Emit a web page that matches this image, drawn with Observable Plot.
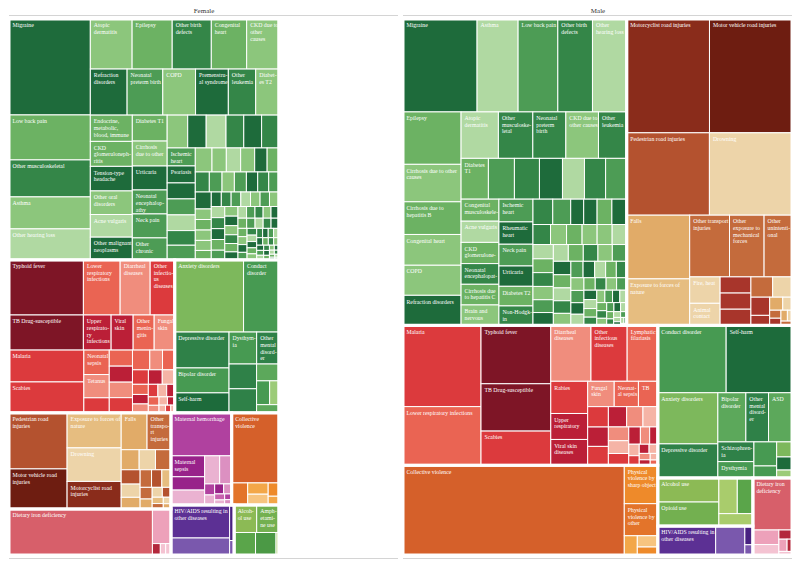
<!DOCTYPE html>
<html><head><meta charset="utf-8">
<script src="https://cdn.jsdelivr.net/npm/d3@7"></script>
<script src="https://cdn.jsdelivr.net/npm/@observablehq/plot@0.6"></script>
<style>body{margin:0;background:#fff}</style>
</head><body><div id="chart"></div>
<script>
const genders = ["Female", "Male"];

// ---- Data: [cause, value (tile area units), shade level] ----
const femaleNCD = [
  ["Migraine", 7776, 5], ["Low back pain", 3645, 2], ["Other musculoskeletal", 2997, 4], ["Asthma", 2592, 1], ["Other hearing loss", 2511, 0],
  ["Atopic dermatitis", 2085, 1], ["Epilepsy", 2000, 2], ["Other birth defects", 1950, 4], ["Congenital heart", 1765, 2], ["CKD due to other causes", 1600, 1],
  ["Refraction disorders", 1688, 5], ["Neonatal preterm birth", 1638, 3], ["COPD", 1504, 1], ["Premenstrual syndrome", 1504, 5], ["Other leukemia", 1256, 4], ["Diabetes T2", 1058, 1],
  ["Endocrine, metabolic, blood, immune", 1100, 2], ["CKD glomerulonephritis", 1045, 2], ["Tension-type headache", 1028, 5], ["Other oral disorders", 986, 1], ["Acne vulgaris", 948, 0], ["Other malignant neoplasms", 950, 5],
  ["Diabetes T1", 902, 2], ["Cirrhosis due to other", 867, 1], ["Urticaria", 833, 5], ["Neonatal encephalopathy", 833, 3], ["Neck pain", 833, 3], ["Other chronic respiratory", 763, 3],
  ["", 673, 1], ["", 604, 5], ["", 650, 0], ["", 581, 4], ["", 584, 5], ["", 561, 4],
  ["Ischemic heart", 504, 3], ["Psoriasis", 476, 5]
];
const femaleNCDSmall = [
  [448,5],[448,3],[440,0],[410,4],[410,3],
  [400,1],[343,1],[343,0],[336,1],[298,5],[278,2],
  [280,4],[254,3],[246,1],[240,3],[226,5],[220,4],[200,3],
  [270,5],[168,1],[168,2],[165,1],[160,1],[150,2],
  [145,5],[142,4],[140,3],[140,0],[138,1],[136,3],[134,1],
  [150,0],[148,4],[146,5],[144,2],[127,1],[130,3],
  [125,5],[120,1],[115,4],[110,2],[105,5],[100,0],[98,3],[95,4],[92,1],[90,5],[88,2],[85,3],[82,0],[80,4],
  [78,5],[75,2],[72,1],[70,5],[68,3],[65,4],[62,0],[60,5],[58,2],[58,1],[55,4],[52,5],[50,3],[48,0],[45,5],
  [42,2],[40,4],[38,1],[36,5],[34,3],[32,0],[30,4],[28,5],[26,2],[24,1],[22,5],[20,0],[18,4],[16,2],[14,5],[12,0],[10,3]
];
const femaleCommunicable = [
  ["Typhoid fever", 4087, 5], ["Lower respiratory infections", 2019, 2], ["Diarrheal diseases", 1650, 1], ["Other infectious diseases", 1348, 3],
  ["TB Drug-susceptible", 2600, 5], ["Upper respiratory infections", 970, 4], ["Viral skin", 770, 4], ["Other meningitis", 735, 2], ["Fungal skin", 718, 1],
  ["Malaria", 2378, 3], ["Scabies", 2303, 3], ["Neonatal sepsis", 620, 2], ["Tetanus", 589, 1]
];
const femaleCommunicableSmall = [[380,3],[372,2],[370,4],[360,1],[350,3],[341,2],[240,2],[250,1],[230,3],[200,4],[180,0],[160,2],[150,4],[140,1],[120,3],[110,0],[100,4],[90,2],[80,1],[70,0],[60,4],[50,0],[40,3],[30,0]];
const femaleMental = [
  ["Anxiety disorders", 4953, 1], ["Conduct disorder", 2531, 3], ["Depressive disorder", 1944, 4], ["Bipolar disorder", 1350, 3], ["Self-harm", 1080, 5],
  ["Dysthymia", 880, 3], ["Other mental disorder", 704, 4]
];
const femaleMentalSmall = [[680,4],[660,4],[372,2],[310,3],[216,0],[180,2]];
const femaleInjuries = [
  ["Pedestrian road injuries", 3248, 4], ["Motor vehicle road injuries", 2320, 6], ["Exposure to forces of nature", 1890, 1], ["Drowning", 1809, 0],
  ["Motorcyclist road injuries", 1485, 5], ["Falls", 951, 2], ["Other transport injuries", 880, 3]
];
const femaleInjuriesSmall = [[330,0],[355,2],[310,3],[270,4],[250,0],[220,2],[200,3],[180,4],[160,1],[140,3],[120,2],[100,0],[85,4],[70,1],[60,3],[50,0],[40,2]];
const femaleNutrition = [["Dietary iron deficiency", 6578, 3]];
const femaleNutritionSmall = [[640,1],[90,4],[61,0],[60,0]];
const femaleMaternal = [["Maternal hemorrhage", 2602, 3], ["Maternal sepsis", 703, 4], ["", 446, 4], ["", 500, 0]];
const femaleMaternalSmall = [[420,0],[336,1],[110,3],[100,0],[90,4],[80,1],[60,2],[50,0],[40,3],[37,1]];
const femaleViolence = [["Collective violence", 3290, 4]];
const femaleViolenceSmall = [[352,3],[230,1],[220,0],[140,2],[92,1]];
const femaleHIV = [["HIV/AIDS resulting in other diseases", 1930, 2], ["", 995, 1]];
const femaleHIVSmall = [[160,3],[65,1]];
const femaleSubstance = [["Alcohol use", 619, 1], ["Amphetamine use", 605, 2]];
const femaleSubstanceSmall = [[480,3],[460,4],[61,0]];

const maleNCD = [
  ["Migraine", 6860, 5], ["Asthma", 3800, 0], ["Low back pain", 3680, 3], ["Other birth defects", 3207, 4], ["Other hearing loss", 3170, 0],
  ["Epilepsy", 3033, 2], ["Cirrhosis due to other causes", 2169, 1], ["Cirrhosis due to hepatitis B", 1891, 2], ["Congenital heart", 1781, 1], ["COPD", 1740, 1], ["Refraction disorders", 1740, 5],
  ["Atopic dermatitis", 1727, 0], ["Other musculoskeletal", 1593, 4], ["Neonatal preterm birth", 1528, 4], ["CKD due to other causes", 1509, 1], ["Other leukemia", 1306, 4],
  ["Diabetes T1", 1111, 2], ["", 1058, 3], ["", 1018, 4], ["", 936, 5], ["", 895, 0], ["", 860, 4], ["", 857, 3],
  ["Congenital musculoskeletal", 831, 2], ["Acne vulgaris", 800, 0], ["CKD glomerulonephritis", 800, 2], ["Neonatal encephalopathy", 780, 4], ["Cirrhosis due to hepatitis C", 780, 2], ["Brain and nervous system cancer", 770, 1],
  ["Ischemic heart", 772, 3], ["Rheumatic heart", 758, 5], ["Neck pain", 738, 3], ["Urticaria", 690, 5], ["Diabetes T2", 666, 2], ["Non-Hodgkin lymphoma", 660, 4]
];
const maleNCDSmall = [
  [500,4],[454,3],[328,5],[339,5],[374,2],[374,5],
  [350,4],[320,1],[310,2],[300,1],[300,1],[290,0],
  [290,0],[280,2],[280,4],[270,1],
  [260,3],[260,5],[250,0],[250,2],[245,4],[240,1],[240,3],[235,5],[230,2],[225,0],[220,4],[210,1],[200,3],[190,5],[180,0],[175,2],
  [170,4],[165,1],[160,3],[150,5],[145,0],[140,2],[135,4],[130,1],[125,3],[120,5],[115,0],[110,2],[105,4],[100,1],[95,3],[90,5],
  [85,0],[80,2],[75,4],[70,1],[65,3],[60,5],[55,0],[50,2],[45,4],[40,0],[35,3],[30,0],[25,5],[20,0],[16,4],[12,0]
];
const maleInjuries = [
  ["Motorcyclist road injuries", 9390, 5], ["Motor vehicle road injuries", 9360, 6], ["Pedestrian road injuries", 6790, 4], ["Drowning", 6780, 0],
  ["Falls", 4000, 2], ["Exposure to forces of nature", 2919, 1], ["Other transport injuries", 2449, 3], ["Other exposure to mechanical forces", 2127, 3], ["Other unintentional", 1717, 3],
  ["Fire, heat", 801, 0], ["Animal contact", 669, 0]
];
const maleInjuriesSmall = [[496,7],[496,7],[496,7],[440,3],[391,0],[340,7],[187,7],[170,2],[120,0],[90,3],[80,7],[70,2],[50,0],[47,3]];
const maleCommunicable = [
  ["Malaria", 6318, 3], ["Lower respiratory infections", 4563, 2], ["Typhoid fever", 4060, 5], ["TB Drug-susceptible", 3290, 5], ["Scabies", 2380, 3],
  ["Diarrheal diseases", 2240, 1], ["Other infectious diseases", 2016, 3], ["Lymphatic filariasis", 1708, 2], ["Rabies", 1184, 3], ["Upper respiratory", 955, 4], ["Viral skin diseases", 950, 4],
  ["Fungal skin", 671, 1], ["Neonatal sepsis", 612, 2], ["TB", 490, 2]
];
const maleCommunicableSmall = [[420,3],[400,4],[390,3],[370,4],[330,1],[300,0],[280,1],[260,0],[240,3],[200,4],[160,1],[140,4],[120,0],[100,3],[90,4],[80,0],[70,1],[60,4],[50,0],[40,2]];
const maleViolence = [["Collective violence", 19780, 4], ["Physical violence by sharp object", 1283, 2], ["Physical violence by other", 1072, 3]];
const maleViolenceSmall = [[250,1],[230,0],[163,2]];
const maleMental = [
  ["Conduct disorder", 4590, 3], ["Self-harm", 4422, 5], ["Anxiety disorders", 3060, 1], ["Depressive disorder", 2040, 4],
  ["Bipolar disorder", 1372, 2], ["Other mental disorder", 1110, 4], ["ASD", 1150, 2], ["Schizophrenia", 709, 4], ["Dysthymia", 587, 3]
];
const maleMentalSmall = [[545,3],[272,3],[230,1],[200,5],[121,0]];
const maleSubstance = [["Alcohol use", 1464, 1], ["Opioid use", 1464, 2]];
const maleSubstanceSmall = [[655,0],[555,3],[422,0]];
const maleHIV = [["HIV/AIDS resulting in other diseases", 1668, 2], ["", 841, 1]];
const maleHIVSmall = [[150,3],[82,1]];
const maleNutrition = [["Dietary iron deficiency", 2028, 3]];
const maleNutritionSmall = [[378,1],[270,0],[120,4],[100,1],[60,4],[47,0]];

// ---- Styles ----
const palettes = {
  green: ["#b0d9a2", "#8cc67c", "#6cb263", "#4d9c55", "#348648", "#1e6b3b"],
  mental: ["#9ccb78", "#7db85c", "#5ca85b", "#479a52", "#2f8148", "#1d6b3b"],
  red: ["#f5b4a6", "#f08d7d", "#ea6453", "#dc3a3d", "#bb1f37", "#7e1526"],
  injury: ["#edd4a9", "#e6bd80", "#e1ab68", "#c46b3c", "#b4522f", "#8a2c1b", "#6e1d11", "#a8352b"],
  maternal: ["#eab2d1", "#dc90c1", "#c862ae", "#b0419f", "#98228a"],
  violence: ["#f7c47f", "#f3a748", "#ee8a2a", "#e3742a", "#d5602a"],
  nutrition: ["#f4c3d2", "#eda1ba", "#e27887", "#d75f6a", "#b3283c"],
  hiv: ["#8c6cbf", "#7a58ad", "#5c3094", "#482181"],
  substance: ["#a9cc6c", "#8cba55", "#73b050", "#5aa54a", "#4b9945"]
};

// ---- Layout order (rows along the top "r" or columns on the left "c", then squarified) ----
const tilesOf = (list, small) => [
  ...list.map(([label, value, shade]) => ({label, value, shade})),
  ...small.map(([value, shade]) => ({label: "", value, shade}))
];
const femaleTree = {name: "Female", rows: ["r1","r2","c2","r2","c1"], children: [
  {name: "NCD", palette: "green", rows: ["c5","r5","r6","c6","c6","r6","c7","r6","r7","c6","r7"], children: tilesOf(femaleNCD, femaleNCDSmall)},
  {name: "Communicable", palette: "red", rows: ["r4","r5","c2"], children: tilesOf(femaleCommunicable, femaleCommunicableSmall)},
  {name: "Mental", palette: "mental", rows: ["r2","c3","r2"], children: tilesOf(femaleMental, femaleMentalSmall)},
  {name: "Injuries", palette: "injury", rows: ["c2","c3","r2"], children: tilesOf(femaleInjuries, femaleInjuriesSmall)},
  {name: "Nutrition", palette: "nutrition", rows: ["c1"], children: tilesOf(femaleNutrition, femaleNutritionSmall)},
  {name: "Maternal", palette: "maternal", rows: ["r1","c3"], children: tilesOf(femaleMaternal, femaleMaternalSmall)},
  {name: "Violence", palette: "violence", rows: ["r1"], children: tilesOf(femaleViolence, femaleViolenceSmall)},
  {name: "HIV", palette: "hiv", rows: ["c2"], children: tilesOf(femaleHIV, femaleHIVSmall)},
  {name: "Substance", palette: "substance", rows: ["r2"], children: tilesOf(femaleSubstance, femaleSubstanceSmall)}
]};
const maleTree = {name: "Male", rows: ["r2","c2","r1","c2"], children: [
  {name: "NCD", palette: "green", rows: ["r5","c6","r5","r7","c6","c6","r6","r6"], children: tilesOf(maleNCD, maleNCDSmall)},
  {name: "Injuries", palette: "injury", rows: ["r2","r2","c2","r3"], children: tilesOf(maleInjuries, maleInjuriesSmall)},
  {name: "Communicable", palette: "red", rows: ["c2","c3","r3","c3","r3"], children: tilesOf(maleCommunicable, maleCommunicableSmall)},
  {name: "Violence", palette: "violence", rows: ["c1","r1","r1"], children: tilesOf(maleViolence, maleViolenceSmall)},
  {name: "Mental", palette: "mental", rows: ["r2","c2","r3","c2"], children: tilesOf(maleMental, maleMentalSmall)},
  {name: "Substance", palette: "substance", rows: ["c2"], children: tilesOf(maleSubstance, maleSubstanceSmall)},
  {name: "HIV", palette: "hiv", rows: ["c1","c1"], children: tilesOf(maleHIV, maleHIVSmall)},
  {name: "Nutrition", palette: "nutrition", rows: ["r1"], children: tilesOf(maleNutrition, maleNutritionSmall)}
]};

function tile(node, x0, y0, x1, y1) {
  const hints = node.data.rows || [];
  const nodes = node.children;
  let value = node.value, i = 0;
  for (const h of hints) {
    const n = +h.slice(1);
    const part = {children: nodes.slice(i, i + n)};
    part.value = d3.sum(part.children, c => c.value);
    if (h[0] === "r") {
      const y = y0 + (y1 - y0) * part.value / value;
      d3.treemapDice(part, x0, y0, x1, y); y0 = y;
    } else {
      const x = x0 + (x1 - x0) * part.value / value;
      d3.treemapSlice(part, x0, y0, x, y1); x0 = x;
    }
    value -= part.value; i += n;
  }
  if (i < nodes.length) {
    const rest = {children: nodes.slice(i).sort((a, b) => b.value - a.value), value};
    d3.treemapSquarify.ratio(1.3)(rest, x0, y0, x1, y1);
  }
}

const H = 536;
const roots = [femaleTree, maleTree].map(t => {
  const root = d3.hierarchy(t).sum(d => d.children ? 0 : d.value);
  d3.treemap().tile(tile).size([root.value / H, H])(root);
  return root;
});
const Wmax = d3.max(roots, r => r.value / H);

const W = 800, mL = 9, mR = 8, gapRatio = 0.0127;
const band = (W - mL - mR) / (2 - gapRatio) * (1 - gapRatio);
const kx = band / Wmax;

const fontSize = 5.8, lineH = 1.15;
const ctx = document.createElement("canvas").getContext("2d");
ctx.font = `${fontSize}px 'Liberation Serif'`;
const mw = s => ctx.measureText(s).width;
function splitWord(word, w) {
  // break an over-long word with hyphens so every piece fits
  const parts = [];
  while (mw(word) > w && word.length > 4) {
    let k = word.length - 2;
    while (k > 2 && mw(word.slice(0, k) + "-") > w) k--;
    parts.push(word.slice(0, k) + "-");
    word = word.slice(k);
  }
  parts.push(word);
  return parts;
}
function wrap(label, w, h) {
  if (!label) return "";
  const lines = []; let cur = "";
  for (const wd of label.split(" ")) {
    const t = cur ? cur + " " + wd : wd;
    if (mw(t) <= w) { cur = t; continue; }
    if (cur) lines.push(cur);
    const pieces = splitWord(wd, w);
    lines.push(...pieces.slice(0, -1));
    cur = pieces[pieces.length - 1];
  }
  if (cur) lines.push(cur);
  const maxLines = Math.max(1, Math.floor(h / (fontSize * lineH)));
  return lines.slice(0, maxLines).join("\n");
}

const items = [];
roots.forEach(root => {
  const gender = root.data.name;
  root.children.forEach(g => items.push({gender, kind: "group", x0: g.x0, x1: g.x1, y0: g.y0, y1: g.y1}));
  root.leaves().forEach(l => items.push({
    gender, kind: "tile", x0: l.x0, x1: l.x1, y0: l.y0, y1: l.y1,
    fill: palettes[l.parent.data.palette][l.data.shade],
    text: wrap(l.data.label, (l.x1 - l.x0) * kx - 4, (l.y1 - l.y0) - 3)
  }));
});

const yDomain = [H + 3, -4];
const chart = Plot.plot({
  width: W, height: 565,
  marginTop: 15, marginBottom: 7, marginLeft: mL, marginRight: mR,
  style: {fontFamily: "'Liberation Serif', serif", fontSize: "7px", color: "#333", background: "white"},
  facet: {data: items, x: "gender"},
  fx: {domain: genders, paddingInner: gapRatio, paddingOuter: 0, axis: "top", label: null, tickSize: 0, tickPadding: 3},
  x: {domain: [0, Wmax], axis: null},
  y: {domain: yDomain, axis: null},
  color: {type: "identity"},
  marks: [
    Plot.ruleY(yDomain, {stroke: "#d4d4d4", strokeWidth: 1}),
    Plot.rect(items, {filter: d => d.kind === "tile", x1: "x0", x2: "x1", y1: "y0", y2: "y1", fill: "fill", stroke: "white", strokeWidth: 1}),
    Plot.rect(items, {filter: d => d.kind === "group", x1: "x0", x2: "x1", y1: "y0", y2: "y1", fill: "none", stroke: "white", strokeWidth: 3}),
    Plot.text(items, {filter: d => d.kind === "tile" && d.text, x: "x0", y: "y0", text: "text", dx: 3, dy: 3,
      textAnchor: "start", lineAnchor: "top", lineHeight: lineH, fill: "white", fontSize, fontFamily: "'Liberation Serif', serif"})
  ]
});
document.getElementById("chart").appendChild(chart);
</script></body></html>
